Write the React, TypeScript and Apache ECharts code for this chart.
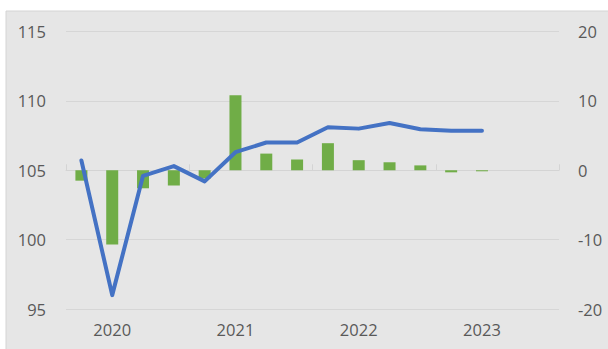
import React, { useEffect, useRef } from "react";
import * as echarts from "echarts";

const categories = [
  "2020Q1", "2020Q2", "2020Q3", "2020Q4",
  "2021Q1", "2021Q2", "2021Q3", "2021Q4",
  "2022Q1", "2022Q2", "2022Q3", "2022Q4",
  "2023Q1", "2023Q2", "2023Q3", "2023Q4",
];
const indexValues = [105.7, 96.0, 104.6, 105.3, 104.2, 106.3, 107.0, 107.0, 108.1, 108.0, 108.4, 107.95, 107.85, 107.85];
const changeValues = [-1.5, -10.7, -2.6, -2.2, -1.2, 10.8, 2.4, 1.55, 3.9, 1.45, 1.15, 0.7, -0.3, -0.15];
const leftTicks = { min: 95, max: 115, interval: 5 };
const rightTicks = { min: -20, max: 20, interval: 10 };

export default function App() {
  const ref = useRef<HTMLDivElement>(null);
  useEffect(() => {
    if (!ref.current) return;
    const chart = echarts.init(ref.current, undefined, { renderer: "svg" });
    const font = "'Open Sans', 'Noto Sans', sans-serif";
    const textColor = "#595959";
    chart.setOption({
      animation: false,
      backgroundColor: "#ffffff",
      graphic: [
        {
          type: "rect",
          z: -10,
          silent: true,
          shape: { x: 6, y: 11, width: 620, height: 360 },
          style: { fill: "#e6e6e6", stroke: "#d4d4d4", lineWidth: 1 },
        },
      ],
      grid: { left: 66, right: 49, top: 31.5, bottom: 40, containLabel: false },
      xAxis: {
        type: "category",
        data: categories,
        boundaryGap: true,
        axisLine: { show: true, lineStyle: { color: "#d4d4d4", width: 1 } },
        axisTick: {
          show: true,
          inside: true,
          length: 6,
          interval: (i: number) => i % 4 === 0,
          lineStyle: { color: "#d4d4d4" },
        },
        axisLabel: {
          interval: (i: number) => i % 4 === 1,
          formatter: (v: string) => v.slice(0, 4),
          color: textColor,
          fontFamily: font,
          fontSize: 16.5,
          margin: 12,
        },
      },
      yAxis: [
        {
          type: "value",
          ...leftTicks,
          axisLine: { show: false },
          axisTick: { show: false },
          splitLine: { show: true, lineStyle: { color: "#d6d6d6", width: 1 } },
          axisLabel: { color: textColor, fontFamily: font, fontSize: 16.5, margin: 20 },
        },
        {
          type: "value",
          ...rightTicks,
          axisLine: { show: false },
          axisTick: { show: false },
          splitLine: { show: false },
          axisLabel: { color: textColor, fontFamily: font, fontSize: 16.5, margin: 19 },
        },
      ],
      series: [
        {
          type: "bar",
          yAxisIndex: 1,
          data: changeValues,
          barWidth: 12,
          itemStyle: { color: "#70ad47" },
          z: 2,
        },
        {
          type: "line",
          yAxisIndex: 0,
          data: indexValues,
          symbol: "none",
          lineStyle: { color: "#4472c4", width: 4, cap: "round", join: "round" },
          z: 3,
        },
      ],
    });
    return () => chart.dispose();
  }, []);
  return (
    <div
      ref={ref}
      style={{ position: "absolute", left: 0, top: 0, width: 608, height: 349 }}
    />
  );
}
